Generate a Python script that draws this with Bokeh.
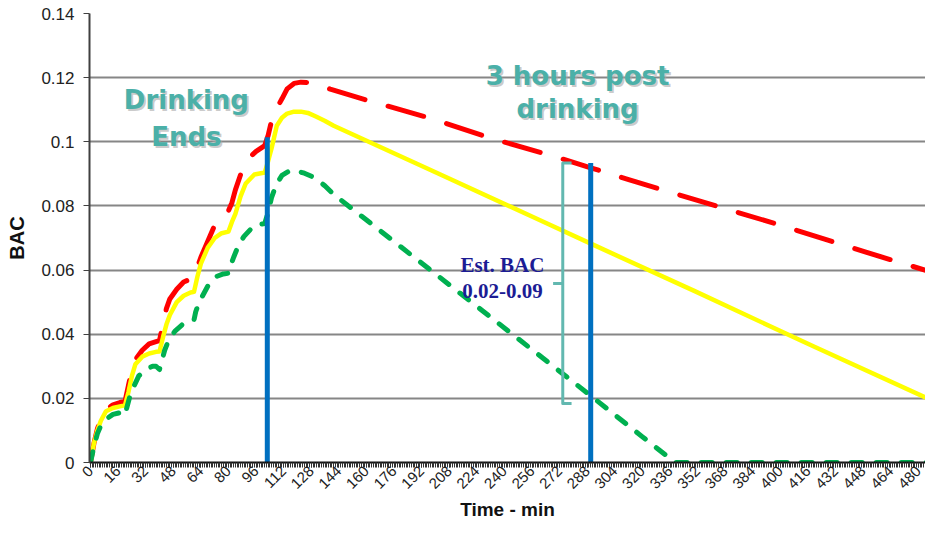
import math
from bokeh.plotting import figure
from bokeh.models import FixedTicker, CustomJSTickFormatter, Range1d, Label, Title
from bokeh.embed import file_html
from bokeh.resources import INLINE

# ---------------- data ----------------
# upper estimate (red, long dashes)
t_high = [0, 2, 4, 6, 9, 13, 17, 20, 22, 24, 26, 30, 34, 38, 40, 42, 44, 46, 50, 54,
          58, 60, 62, 64, 68, 72, 76, 80, 82, 84, 88, 92, 96, 101, 103, 105, 108, 111,
          114, 118, 122, 126, 131, 139, 162, 198, 232, 266, 290, 312, 336, 400, 450, 488]
bac_high = [0.000, 0.006, 0.0105, 0.0135, 0.0165, 0.018, 0.0187, 0.019, 0.024, 0.029,
            0.032, 0.035, 0.037, 0.0377, 0.038, 0.043, 0.048, 0.051, 0.054, 0.0563,
            0.0572, 0.0576, 0.061, 0.064, 0.069, 0.074, 0.0765, 0.0785, 0.081, 0.085,
            0.0913, 0.095, 0.097, 0.0988, 0.102, 0.1066, 0.1105, 0.1134, 0.1165, 0.1182,
            0.1186, 0.1185, 0.118, 0.1164, 0.1127, 0.1072, 0.1011, 0.0959, 0.0919,
            0.0882, 0.0843, 0.0740, 0.0655, 0.0593]

# middle estimate (yellow, solid)
t_mid = [0, 2, 4, 6, 9, 13, 17, 20, 22, 24, 26, 30, 34, 38, 40, 42, 44, 46, 50, 54, 58,
         60, 62, 64, 68, 72, 76, 80, 82, 84, 87, 90, 95, 101, 103, 105, 108, 111, 114,
         118, 122, 126, 131, 136, 141, 200, 260, 291, 350, 420, 488]
bac_mid = [0.000, 0.006, 0.010, 0.013, 0.016, 0.017, 0.0175, 0.0178, 0.022, 0.027,
           0.0306, 0.033, 0.034, 0.0345, 0.0346, 0.039, 0.043, 0.046, 0.050, 0.052,
           0.053, 0.0532, 0.058, 0.062, 0.067, 0.070, 0.0715, 0.072, 0.075, 0.0775,
           0.083, 0.087, 0.0898, 0.0904, 0.094, 0.098, 0.105, 0.1075, 0.1088, 0.1094,
           0.1094, 0.109, 0.1078, 0.1065, 0.105, 0.0905, 0.0757, 0.068, 0.0535, 0.036,
           0.0193]

# lower estimate (green, short dashes)
t_low = [0, 2, 4, 6, 9, 13, 17, 19, 20, 21, 23, 25, 28, 32, 36, 38, 40, 41, 43, 45, 49,
         53, 57, 60, 61, 63, 65, 69, 73, 77, 80, 81, 83, 86, 89, 95, 101, 103, 105, 108,
         111, 115, 119, 124, 130, 136, 141, 200, 260, 291, 320, 339, 400, 488]
bac_low = [0.000, 0.005, 0.009, 0.0115, 0.0135, 0.015, 0.0155, 0.015, 0.0147, 0.017,
           0.021, 0.0236, 0.027, 0.029, 0.030, 0.030, 0.029, 0.031, 0.035, 0.0377,
           0.041, 0.0429, 0.044, 0.0444, 0.047, 0.050, 0.052, 0.056, 0.058, 0.0588,
           0.059, 0.061, 0.064, 0.068, 0.0705, 0.074, 0.0745, 0.078, 0.0827, 0.087,
           0.0895, 0.0908, 0.091, 0.0902, 0.0888, 0.0862, 0.0836, 0.0588, 0.0335,
           0.0204, 0.008, 0.0, 0.0, 0.0]

# vertical markers: drinking ends / 3 hours post drinking
marker_t = [102.5, 290]
marker_top = [0.1014, 0.0934]

# estimated BAC range bracket at 3 hours post
bracket_low = 0.0184
bracket_high = 0.0934
bracket_mid = 0.0558

x_tick_values = list(range(0, 481, 16))
x_minor_ticks = list(range(0, 485))
y_tick_values = [0, 0.02, 0.04, 0.06, 0.08, 0.10, 0.12, 0.14]

# ---------------- figure ----------------
p = figure(width=925, height=519, output_backend="svg", toolbar_location=None,
           x_range=Range1d(-0.58, 484.1), y_range=Range1d(0, 0.14),
           min_border_left=89, min_border_right=0, min_border_top=13,
           min_border_bottom=54)
p.outline_line_color = None
p.background_fill_color = "white"
p.border_fill_color = "white"

xa = p.xaxis[0]
xa.ticker = FixedTicker(ticks=x_tick_values, minor_ticks=x_minor_ticks)
xa.major_label_orientation = math.pi / 4
xa.major_label_text_font = "Liberation Sans"
xa.major_label_text_font_size = "15px"
xa.major_label_text_color = "#222222"
xa.major_label_standoff = 1
xa.axis_line_color = "#111111"
xa.axis_line_width = 2
xa.major_tick_in = 0
xa.major_tick_out = 5
xa.minor_tick_in = 0
xa.minor_tick_out = 5
xa.major_tick_line_color = "#222222"
xa.minor_tick_line_color = "#333333"

ya = p.yaxis[0]
ya.ticker = FixedTicker(ticks=y_tick_values)
ya.formatter = CustomJSTickFormatter(
    code="return tick.toFixed(2).replace(/0+$/, '').replace(/\\.$/, '');")
ya.major_label_text_font = "Liberation Sans"
ya.major_label_text_font_size = "17px"
ya.major_label_text_color = "#222222"
ya.major_label_standoff = 9
ya.axis_line_color = "#404040"
ya.axis_line_width = 2
ya.major_tick_in = 0
ya.major_tick_out = 6
ya.major_tick_line_color = "#404040"
ya.minor_tick_line_color = None
ya.axis_label = "BAC"
ya.axis_label_text_font = "Liberation Sans"
ya.axis_label_text_font_style = "bold"
ya.axis_label_text_font_size = "20px"
ya.axis_label_text_color = "#111111"
ya.axis_label_standoff = 10

p.add_layout(Title(text="Time - min", align="center", offset=30, standoff=0,
                   text_font="Liberation Sans", text_font_style="bold",
                   text_font_size="19px", text_color="#111111"), "below")

p.xgrid.grid_line_color = None
p.ygrid.grid_line_color = "#868686"
p.ygrid.grid_line_width = 2

# ---------------- series ----------------
p.line(t_high, bac_high, line_color="#FF0000", line_width=5, line_dash="37 24",
       line_cap="round", line_join="round")
p.line(t_mid, bac_mid, line_color="#FFFF00", line_width=4.5,
       line_cap="round", line_join="round")
p.line(t_low, bac_low, line_color="#00B050", line_width=5, line_dash="11 14",
       line_cap="round", line_join="round")

p.segment(x0=marker_t, y0=[0] * len(marker_t), x1=marker_t, y1=marker_top,
          line_color="#0070C0", line_width=5)

# bracket
bx_v = 273.8
bx_h = 278.9
bx_t = 268.2
teal_b = "#62B8B0"
p.line([bx_h, bx_v, bx_v, bx_h], [bracket_high, bracket_high, bracket_low, bracket_low],
       line_color=teal_b, line_width=3, line_join="round")
p.segment(x0=[bx_t], y0=[bracket_mid], x1=[bx_v], y1=[bracket_mid],
          line_color=teal_b, line_width=3)

# ---------------- texts ----------------
teal = "#4BB0A8"
shadow = "#A9A9A9"


def big_text(x, y, txt):
    p.add_layout(Label(x=x, y=y, text=txt, x_offset=2, y_offset=-2,
                       text_font="DejaVu Sans", text_font_style="bold",
                       text_font_size="26px", text_color=shadow, text_alpha=0.6,
                       text_align="center", text_baseline="alphabetic"))
    p.add_layout(Label(x=x, y=y, text=txt,
                       text_font="DejaVu Sans", text_font_style="bold",
                       text_font_size="26px", text_color=teal,
                       text_align="center", text_baseline="alphabetic"))


big_text(55.6, 0.1130, "Drinking")
big_text(55.6, 0.1014, "Ends")
big_text(282.4, 0.1204, "3 hours post")
big_text(282.4, 0.1103, "drinking")

navy = "#1C1C94"
p.add_layout(Label(x=238.8, y=0.0616, text="Est. BAC", text_font="Liberation Serif",
                   text_font_style="bold", text_font_size="21px", text_color=navy,
                   text_align="center", text_baseline="alphabetic"))
p.add_layout(Label(x=238.8, y=0.0536, text="0.02-0.09", text_font="Liberation Serif",
                   text_font_style="bold", text_font_size="21px", text_color=navy,
                   text_align="center", text_baseline="alphabetic"))

open("out.html", "w").write(file_html(p, INLINE))
